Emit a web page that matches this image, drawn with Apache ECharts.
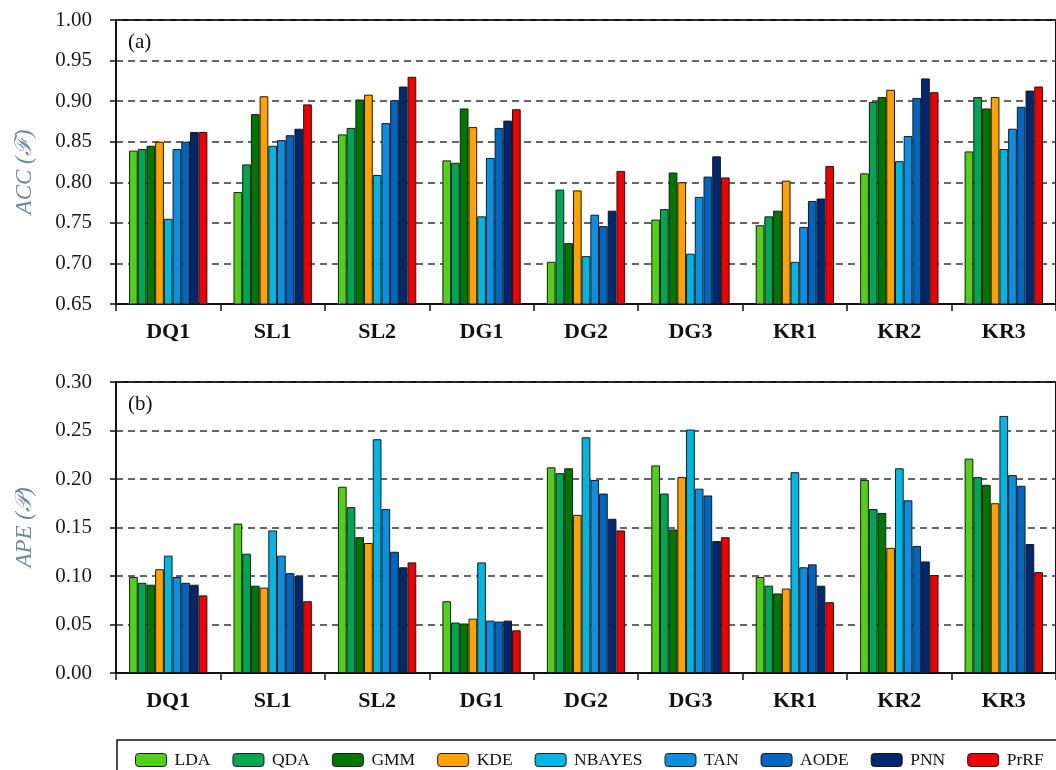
<!DOCTYPE html>
<html>
<head>
<meta charset="utf-8">
<script src="https://cdn.jsdelivr.net/npm/echarts@6/dist/echarts.min.js"></script>
<style>
  html, body { margin: 0; padding: 0; background: #fff; }
  #chart { width: 1056px; height: 770px; }
</style>
</head>
<body>
<div id="chart"></div>
<script>
// Datasets on the category axis
const categories = ['DQ1', 'SL1', 'SL2', 'DG1', 'DG2', 'DG3', 'KR1', 'KR2', 'KR3'];

// Classifiers (legend order)
const methods = ['LDA', 'QDA', 'GMM', 'KDE', 'NBAYES', 'TAN', 'AODE', 'PNN', 'PrRF'];
const methodColors = ['#52d017', '#00a651', '#007800', '#ffa200', '#00b7e3', '#0a8fe2', '#0066c0', '#00276f', '#f00000'];

// (a) accuracy ACC(F), one array per classifier, values per dataset
const accLDA    = [0.839, 0.788, 0.859, 0.827, 0.702, 0.754, 0.747, 0.811, 0.838];
const accQDA    = [0.841, 0.822, 0.867, 0.824, 0.791, 0.767, 0.758, 0.899, 0.905];
const accGMM    = [0.845, 0.884, 0.902, 0.891, 0.725, 0.812, 0.765, 0.905, 0.891];
const accKDE    = [0.850, 0.906, 0.908, 0.868, 0.790, 0.800, 0.802, 0.914, 0.905];
const accNBAYES = [0.755, 0.845, 0.809, 0.758, 0.709, 0.712, 0.702, 0.826, 0.841];
const accTAN    = [0.841, 0.852, 0.873, 0.830, 0.760, 0.782, 0.745, 0.857, 0.866];
const accAODE   = [0.850, 0.858, 0.901, 0.867, 0.746, 0.807, 0.777, 0.904, 0.893];
const accPNN    = [0.862, 0.866, 0.918, 0.876, 0.765, 0.832, 0.780, 0.928, 0.913];
const accPrRF   = [0.862, 0.896, 0.930, 0.890, 0.814, 0.806, 0.820, 0.911, 0.918];

// (b) error APE(P)
const apeLDA    = [0.099, 0.154, 0.192, 0.074, 0.212, 0.214, 0.099, 0.199, 0.221];
const apeQDA    = [0.093, 0.123, 0.171, 0.052, 0.206, 0.185, 0.090, 0.169, 0.202];
const apeGMM    = [0.091, 0.090, 0.140, 0.051, 0.211, 0.148, 0.082, 0.165, 0.194];
const apeKDE    = [0.107, 0.088, 0.134, 0.056, 0.163, 0.202, 0.087, 0.129, 0.175];
const apeNBAYES = [0.121, 0.147, 0.241, 0.114, 0.243, 0.251, 0.207, 0.211, 0.265];
const apeTAN    = [0.099, 0.121, 0.169, 0.054, 0.199, 0.190, 0.109, 0.178, 0.204];
const apeAODE   = [0.093, 0.103, 0.125, 0.053, 0.185, 0.183, 0.112, 0.131, 0.193];
const apePNN    = [0.091, 0.100, 0.109, 0.054, 0.159, 0.136, 0.090, 0.115, 0.133];
const apePrRF   = [0.080, 0.074, 0.114, 0.044, 0.147, 0.140, 0.073, 0.101, 0.104];

const accTicks = { min: 0.65, max: 1.00, interval: 0.05 };
const apeTicks = { min: 0.00, max: 0.30, interval: 0.05 };

const accData = [accLDA, accQDA, accGMM, accKDE, accNBAYES, accTAN, accAODE, accPNN, accPrRF];
const apeData = [apeLDA, apeQDA, apeGMM, apeKDE, apeNBAYES, apeTAN, apeAODE, apePNN, apePrRF];

const SERIF = '"Liberation Serif", "Times New Roman", serif';
const INK = '#111';

function xAxisFor(gridIndex) {
  return {
    type: 'category',
    gridIndex,
    data: categories,
    boundaryGap: true,
    axisLine: { lineStyle: { color: INK, width: 2 } },
    axisTick: { show: true, length: 7, inside: false, lineStyle: { color: INK, width: 1.5 } },
    axisLabel: { margin: 17, fontFamily: SERIF, fontWeight: 'bold', fontSize: 22, color: INK },
    splitLine: { show: false }
  };
}

function yAxisFor(gridIndex, ticks, name, namePadding) {
  return {
    type: 'value',
    gridIndex,
    min: ticks.min,
    max: ticks.max,
    interval: ticks.interval,
    name,
    nameLocation: 'middle',
    nameGap: 80,
    nameTextStyle: { fontFamily: SERIF, fontStyle: 'italic', fontSize: 23, color: '#6b88a8', padding: namePadding },
    axisLine: { show: true, lineStyle: { color: INK, width: 2 } },
    axisTick: { show: true, length: 6, inside: false, lineStyle: { color: INK, width: 1.5 } },
    axisLabel: {
      margin: 24, fontFamily: SERIF, fontSize: 21, color: '#1a1a1a',
      formatter: v => v.toFixed(2)
    },
    splitLine: { show: true, lineStyle: { color: '#333', width: 1.5, type: [7, 5] } }
  };
}

const series = [];
[accData, apeData].forEach((group, g) => {
  group.forEach((values, i) => {
    series.push({
      name: methods[i],
      type: 'bar',
      xAxisIndex: g,
      yAxisIndex: g,
      data: values,
      barGap: '0%',
      barCategoryGap: '25%',
      itemStyle: { color: methodColors[i], borderColor: '#1a1a1a', borderWidth: 1 },
      emphasis: { disabled: true }
    });
  });
});

const chart = echarts.init(document.getElementById('chart'), null, { renderer: 'canvas' });
chart.setOption({
  backgroundColor: '#fff',
  animation: false,
  color: methodColors,
  grid: [
    { left: 116, top: 20, width: 946, height: 284, show: true, borderColor: INK, borderWidth: 2, backgroundColor: 'transparent' },
    { left: 116, top: 382, width: 946, height: 291, show: true, borderColor: INK, borderWidth: 2, backgroundColor: 'transparent' }
  ],
  xAxis: [xAxisFor(0), xAxisFor(1)],
  yAxis: [
    yAxisFor(0, accTicks, 'ACC (\u2131)', [0, 20, 0, 0]),
    yAxisFor(1, apeTicks, 'APE (\uD835\uDCAB)', [0, 0, 0, 0])
  ],
  legend: {
    data: methods,
    left: 130,
    top: 746,
    width: 1000,
    itemWidth: 31,
    itemHeight: 13,
    itemGap: 22,
    itemStyle: { borderColor: '#1a1a1a', borderWidth: 1 },
    textStyle: { fontFamily: SERIF, fontSize: 17.5, color: INK, padding: [0, 0, 0, 3] }
  },
  graphic: [
    { type: 'text', left: 128, top: 32, style: { text: '(a)', font: '21px ' + SERIF, fill: INK } },
    { type: 'text', left: 128, top: 394, style: { text: '(b)', font: '21px ' + SERIF, fill: INK } },
    { type: 'rect', shape: { x: 117, y: 740, width: 960, height: 60 }, style: { fill: 'none', stroke: INK, lineWidth: 1.5 }, z: 100 }
  ],
  series
});
</script>
</body>
</html>
